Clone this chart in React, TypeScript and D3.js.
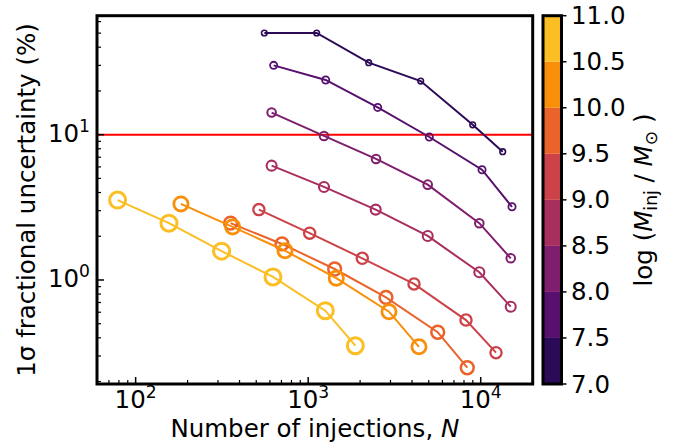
import React from 'react';
import * as d3 from 'd3';

// ---------- data ----------
const logMassBinEdges = [7.0, 7.5, 8.0, 8.5, 9.0, 9.5, 10.0, 10.5, 11.0];
const colorbarTicks = [7.0, 7.5, 8.0, 8.5, 9.0, 9.5, 10.0, 10.5, 11.0];
const seriesLogMass = [7.25, 7.75, 8.25, 8.75, 9.25, 9.75, 10.25, 10.75];

const nInj725 = [557, 1120, 2243, 4490, 8988, 13413];
const sig725 = [50.1, 50.1, 31.3, 23.4, 11.7, 7.64];
const nInj775 = [631, 1263, 2529, 5036, 10175, 15185];
const sig775 = [30.0, 23.8, 15.4, 9.64, 5.74, 3.19];
const nInj825 = [614, 1235, 2473, 4930, 9815, 14930];
const sig825 = [14.2, 9.8, 6.81, 4.53, 2.46, 1.41];
const nInj875 = [614, 1235, 2462, 4930, 9815, 14930];
const sig875 = [6.12, 4.37, 3.05, 2.01, 1.13, 0.655];
const nInj925 = [518, 1020, 2059, 4106, 8217, 12266];
const sig925 = [3.05, 2.1, 1.41, 0.939, 0.53, 0.316];
const nInj975 = [355, 705, 1424, 2825, 5633, 8360];
const sig975 = [2.46, 1.77, 1.19, 0.76, 0.437, 0.249];
const nInj1025 = [183, 365, 734, 1455, 2940, 4388];
const sig1025 = [3.34, 2.32, 1.59, 1.03, 0.605, 0.347];
const nInj1075 = [78.6, 156, 315, 625, 1257, 1876];
const sig1075 = [3.55, 2.46, 1.58, 1.05, 0.615, 0.353];

const seriesN = [nInj725, nInj775, nInj825, nInj875, nInj925, nInj975, nInj1025, nInj1075];
const seriesSig = [sig725, sig775, sig825, sig875, sig925, sig975, sig1025, sig1075];

const thresholdPct = 10;
const xMajorTicks = [100, 1000, 10000];
const xTickExp = ['2', '3', '4'];
const yMajorTicks = [1, 10];
const yTickExp = ['0', '1'];

// ---------- layout ----------
const W = 680, H = 445;
const L = 97, R = 532.7, T = 15.7, B = 384;
const CBL = 543, CBR = 561.5;
const FONT = 'DejaVu Sans, sans-serif';
const FS = 24.5;

const x = d3.scaleLog().domain([59.7, 20015]).range([L, R]);
const y = d3.scaleLog().domain([0.1924, 65.9]).range([B, T]);
const cb = d3.scaleLinear().domain([7, 11]).range([B, T]);
const color = (m: number) => d3.interpolateInferno(0.15 + (m - 7.25) * 0.2);

const markerR = [2.8, 3.6, 4.3, 5.0, 5.6, 6.4, 7.1, 8.0];
const markerW = [1.6, 1.8, 2.0, 2.1, 2.3, 2.5, 2.8, 3.0];

const minorTicks = (lo: number, hi: number) => {
  const out: number[] = [];
  for (let d = 0.1; d <= 10000; d *= 10) {
    for (let k = 2; k <= 9; k++) {
      const v = k * d;
      if (v > lo && v < hi) out.push(+v.toPrecision(6));
    }
  }
  return out;
};

export default function App() {
  const line = d3.line<[number, number]>().x(d => x(d[0])).y(d => y(d[1]));
  const xMinor = minorTicks(59.7, 20015);
  const yMinor = minorTicks(0.1924, 65.9);

  return (
    <svg width={W} height={H} style={{ position: 'fixed', left: 0, top: 0, background: '#fff' }}
      fontFamily={FONT}>
      <rect x={0} y={0} width={W} height={H} fill="#fff" />
      <defs>
        <clipPath id="plotclip">
          <rect x={L} y={T} width={R - L} height={B - T} />
        </clipPath>
      </defs>
      {/* threshold line */}
      <line x1={L} x2={R} y1={y(thresholdPct)} y2={y(thresholdPct)} stroke="#ff0000" strokeWidth={2} />
      {/* series */}
      <g clipPath="url(#plotclip)">
        {seriesN.map((ns, i) => {
          const pts = ns.map((n, j) => [n, seriesSig[i][j]] as [number, number]);
          const c = color(seriesLogMass[i]);
          return (
            <g key={i}>
              <path d={line(pts) || ''} fill="none" stroke={c} strokeWidth={2} />
              {pts.map((p, j) => (
                <circle key={j} cx={x(p[0])} cy={y(p[1])} r={markerR[i]} fill="none" stroke={c} strokeWidth={markerW[i]} />
              ))}
            </g>
          );
        })}
      </g>
      {/* ticks */}
      {xMajorTicks.map(t => (
        <line key={'xM' + t} x1={x(t)} x2={x(t)} y1={B} y2={B - 7} stroke="#000" strokeWidth={1.5} />
      ))}
      {xMinor.map(t => (
        <line key={'xm' + t} x1={x(t)} x2={x(t)} y1={B} y2={B - 4} stroke="#000" strokeWidth={1.2} />
      ))}
      {yMajorTicks.map(t => (
        <line key={'yM' + t} x1={L} x2={L + 7} y1={y(t)} y2={y(t)} stroke="#000" strokeWidth={1.5} />
      ))}
      {yMinor.map(t => (
        <line key={'ym' + t} x1={L} x2={L + 4} y1={y(t)} y2={y(t)} stroke="#000" strokeWidth={1.2} />
      ))}
      {/* frame */}
      <rect x={L} y={T} width={R - L} height={B - T} fill="none" stroke="#000" strokeWidth={3} />
      {/* x tick labels */}
      {xMajorTicks.map((t, i) => (
        <text key={'xl' + t} x={x(t)} y={408} fontSize={FS} textAnchor="middle" fill="#000">
          10<tspan fontSize={FS * 0.7} dy={-10}>{xTickExp[i]}</tspan>
        </text>
      ))}
      {/* y tick labels */}
      {yMajorTicks.map((t, i) => (
        <text key={'yl' + t} x={90} y={y(t) + 7} fontSize={FS} textAnchor="end" fill="#000">
          10<tspan fontSize={FS * 0.7} dy={-10}>{yTickExp[i]}</tspan>
        </text>
      ))}
      {/* axis labels */}
      <text x={(L + R) / 2} y={437} fontSize={FS} textAnchor="middle" fill="#000">
        Number of injections, <tspan fontStyle="italic">N</tspan>
      </text>
      <text transform={`translate(35,200) rotate(-90)`} fontSize={FS} textAnchor="middle" fill="#000">
        1σ fractional uncertainty (%)
      </text>
      {/* colorbar */}
      {logMassBinEdges.slice(0, -1).map((e, i) => (
        <rect key={'cb' + i} x={CBL} width={CBR - CBL} y={cb(logMassBinEdges[i + 1])}
          height={cb(e) - cb(logMassBinEdges[i + 1])} fill={color(seriesLogMass[i])} />
      ))}
      <rect x={CBL} y={T} width={CBR - CBL} height={B - T} fill="none" stroke="#000" strokeWidth={3} />
      {colorbarTicks.map(t => (
        <g key={'ct' + t}>
          <line x1={CBR} x2={CBR + 5} y1={cb(t)} y2={cb(t)} stroke="#000" strokeWidth={1.5} />
          <text x={571} y={cb(t) + 8.5} fontSize={FS} fill="#000">{t.toFixed(1)}</text>
        </g>
      ))}
      <text transform={`translate(652,200) rotate(-90)`} fontSize={FS} textAnchor="middle" fill="#000">
        log (<tspan fontStyle="italic">M</tspan><tspan fontSize={FS * 0.7} dy={5}>inj</tspan>
        <tspan dy={-5}> / </tspan><tspan fontStyle="italic">M</tspan><tspan fontSize={FS * 0.7} dy={5}>⊙</tspan><tspan dy={-5}> )</tspan>
      </text>
    </svg>
  );
}
